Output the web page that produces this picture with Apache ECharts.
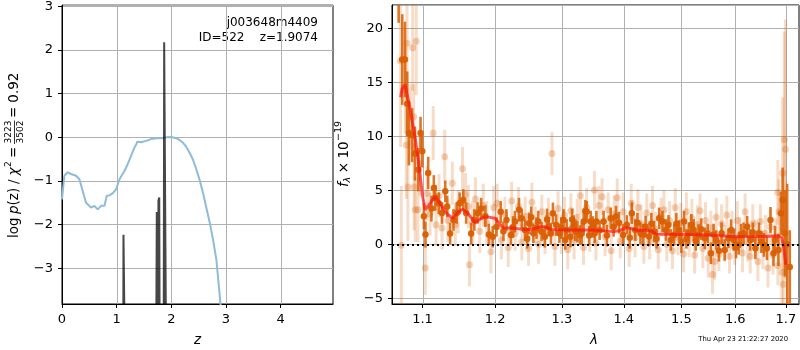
<!DOCTYPE html>
<html>
<head>
<meta charset="utf-8">
<script src="https://cdn.jsdelivr.net/npm/echarts@6/dist/echarts.min.js"></script>
<style>
  html, body { margin: 0; padding: 0; background: #fff; }
  #chart { width: 800px; height: 350px; }
</style>
</head>
<body>
<div id="chart"></div>
<script>
// left panel: log p(z) curve and the chi2 spikes
const pzCurve = [
  [0, -1.42], [0.043, -0.88], [0.104, -0.8], [0.165, -0.84], [0.257, -0.88], [0.318, -0.96],
  [0.379, -1.23], [0.44, -1.5], [0.532, -1.61], [0.593, -1.57], [0.654, -1.65], [0.716, -1.57],
  [0.777, -1.57], [0.82, -1.34], [0.869, -1.33], [0.93, -1.28], [0.99, -1.19], [1.052, -0.96],
  [1.143, -0.77], [1.204, -0.61], [1.266, -0.42], [1.327, -0.23], [1.36, -0.16], [1.375, -0.1],
  [1.395, -0.14], [1.45, -0.11], [1.54, -0.08], [1.63, -0.04], [1.725, -0.02], [1.82, -0.02],
  [1.908, 0.0], [2.0, 0.01], [2.09, -0.02], [2.15, -0.06], [2.213, -0.12], [2.275, -0.22],
  [2.335, -0.35], [2.4, -0.52], [2.458, -0.73], [2.52, -0.98], [2.58, -1.27], [2.64, -1.6],
  [2.703, -1.95], [2.765, -2.35], [2.825, -2.8], [2.9, -3.8], [2.95, -4.5]
]
const chiSpikes = [
  [1.12, -6], [1.125, -2.23], [1.155, -2.25], [1.16, -6],
  [1.72, -6], [1.735, -1.71], [1.75, -1.73], [1.758, -4], [1.765, -1.45], [1.78, -1.38], [1.79, -6],
  [1.86, -6], [1.87, 2.18], [1.9, 2.2], [1.91, -6]
]

// right panel: [lambda, flux, err]
const darkPoints = [
  [1.069, 22.5, 2.0], [1.0736, 17.1, 4.2], [1.0771, 17.1, 3.5], [1.080, 13.0, 3.0], [1.0822, 10.3, 3.0],
  [1.0864, 10.1, 2.5], [1.0901, 8.4, 2.5], [1.0945, 6.9, 2.0], [1.0974, 10.3, 1.5], [1.0997, 8.6, 1.5],
  [1.1018, 2.6, 1.2], [1.1039, 0.9, 1.2], [1.1075, 6.6, 1.5], [1.1118, 3.3, 1.2], [1.115, 5.2, 1.2],
  [1.117, 4.3, 1.2], [1.1216, 3.8, 1.0], [1.126, 2.9, 1.0], [1.1304, 4.9, 1.0], [1.133, 3.5, 1.0],
  [1.137, 1.0, 1.0], [1.1415, 2.25, 1.0], [1.146, 2.9, 1.0], [1.150, 3.8, 1.0], [1.155, 4.1, 1.0],
  [1.159, 2.9, 1.0], [1.166, 1.0, 1.0], [1.1705, 2.25, 1.0], [1.175, 2.9, 1.0], [1.180, 3.3, 1.0],
  [1.186, 2.6, 1.0], [1.191, 0.9, 1.0],
  [1.1965, 0.7, 1.0], [1.202, 1.6, 0.9], [1.208, 3.0, 1.0], [1.212, 1.2, 0.9], [1.2164, 2.25, 1.0],
  [1.2229, 0.86, 0.9], [1.226, 1.6, 1.0], [1.2288, 2.1, 1.0], [1.2348, 3.2, 1.1], [1.2388, 2.4, 0.9],
  [1.2437, 1.32, 1.0], [1.247, 0.5, 0.9], [1.2497, 1.94, 1.0], [1.253, 2.5, 1.0], [1.2562, 1.02, 0.9],
  [1.261, 1.5, 1.0], [1.2636, 2.1, 1.0], [1.2686, 1.17, 0.9], [1.2736, 0.7, 1.0], [1.277, 2.3, 1.0],
  [1.2795, 1.63, 0.9], [1.283, 1.0, 1.0], [1.286, 2.86, 1.0], [1.291, 1.78, 1.0], [1.296, 1.02, 0.9],
  [1.299, 1.5, 1.0], [1.3024, 2.25, 1.0], [1.305, 0.4, 0.9], [1.3074, 1.32, 1.0], [1.3133, 0.7, 1.0],
  [1.316, 2.3, 1.0], [1.3183, 1.78, 0.9], [1.321, 1.3, 1.0], [1.3243, 1.17, 1.0], [1.3282, 0.86, 0.9],
  [1.331, 1.0, 1.0], [1.3342, 2.1, 1.0], [1.337, 3.1, 1.0], [1.3392, 3.0, 1.0], [1.343, 0.8, 0.9],
  [1.3456, 2.1, 1.0], [1.349, 1.6, 1.0], [1.352, 1.02, 0.9],
  [1.3547, 2.1, 1.0], [1.360, 1.3, 0.9], [1.3665, 2.1, 1.0], [1.372, 0.8, 1.0], [1.3782, 2.4, 1.0],
  [1.383, 1.6, 0.9], [1.387, 2.56, 1.0], [1.392, 2.0, 1.0], [1.3988, 0.86, 1.0], [1.405, 1.8, 0.9],
  [1.41, 0.6, 1.0], [1.4135, 2.87, 1.0], [1.4194, 1.32, 1.0], [1.423, 2.0, 0.9], [1.4282, 1.02, 1.0],
  [1.433, 0.9, 1.0], [1.437, 1.63, 1.0], [1.4429, 0.71, 0.9], [1.447, 1.9, 1.0], [1.4517, 1.17, 1.0],
  [1.456, 0.5, 0.9], [1.4606, 2.4, 1.0], [1.4664, 2.1, 1.0], [1.4723, 1.32, 1.0], [1.477, 1.8, 0.9],
  [1.4811, 0.4, 1.0], [1.487, 0.86, 1.0], [1.491, 1.9, 1.0], [1.4958, 1.32, 0.9], [1.50, 0.2, 1.0],
  [1.5047, 2.1, 1.0], [1.509, 0.5, 0.9], [1.5135, 1.02, 1.0], [1.518, 1.8, 1.0], [1.5223, 1.32, 1.0],
  [1.526, 0.3, 0.9], [1.5311, 0.86, 1.0], [1.536, 1.4, 1.0], [1.5429, 0.55, 1.0], [1.548, 1.0, 0.9],
  [1.554, -0.83, 1.0], [1.559, 0.9, 1.0], [1.564, 0.4, 0.9], [1.569, -0.6, 1.0], [1.574, 1.02, 1.0],
  [1.580, -0.52, 1.0], [1.587, 0.55, 0.9], [1.592, 1.3, 1.0], [1.597, 0.4, 1.0], [1.6015, -0.3, 1.0],
  [1.6065, -0.06, 0.9], [1.611, 0.9, 1.0], [1.616, 1.02, 1.0], [1.623, 1.63, 1.0], [1.629, 0.4, 1.0],
  [1.634, 1.1, 0.9], [1.639, -0.37, 1.0], [1.646, 1.02, 1.0], [1.651, 0.2, 1.0], [1.656, -0.06, 1.1],
  [1.662, -0.37, 1.1], [1.669, 2.25, 1.2], [1.675, -0.83, 1.2], [1.678, 0.4, 1.3], [1.685, -0.52, 1.5],
  [1.690, 2.87, 2.0], [1.6935, 4.1, 3.0], [1.698, 1.0, 4.0], [1.7027, 0.0, 5.6], [1.708, -2.1, 3.4]
]
const lightPoints = [
  [1.0715, 17.0, 8.0], [1.0724, -0.1, 5.5], [1.0776, 14.3, 4.0], [1.0797, 18.6, 4.0], [1.0789, 9.2, 5.0],
  [1.081, 5.3, 5.0], [1.0842, 11.8, 3.0], [1.0871, 18.2, 4.0], [1.0884, 11.8, 3.0], [1.089, 5.3, 4.0],
  [1.0905, 3.2, 3.0], [1.0917, 18.8, 5.0], [1.094, 3.2, 3.0], [1.0965, 7.5, 3.0], [1.1037, -2.2, 2.5],
  [1.106, 4.7, 2.5], [1.110, 2.8, 2.0], [1.1142, 10.3, 2.5], [1.118, 1.8, 2.0], [1.122, 4.5, 2.0],
  [1.126, 1.5, 2.0], [1.1296, 8.1, 2.5], [1.134, 2.2, 2.0], [1.14, 5.65, 2.0], [1.144, 1.8, 2.0],
  [1.148, 3.0, 2.0], [1.154, 7.0, 2.0], [1.158, 4.6, 2.0], [1.162, 3.5, 2.0], [1.1636, -1.9, 2.0],
  [1.168, 2.0, 2.0], [1.172, 4.2, 2.0], [1.178, 1.2, 2.0], [1.183, 3.6, 2.0], [1.188, 2.0, 2.0],
  [1.194, -0.7, 2.0], [1.198, 3.4, 2.0],
  [1.203, 3.8, 1.8], [1.209, 0.4, 1.8], [1.214, 2.8, 1.6], [1.219, -0.3, 1.8], [1.224, 4.0, 1.8],
  [1.229, 1.0, 1.6], [1.234, 3.5, 1.8], [1.239, 0.2, 1.7], [1.244, 2.6, 1.8], [1.249, -0.4, 1.6],
  [1.254, 3.9, 1.8], [1.259, 1.8, 1.7], [1.264, 0.0, 1.8], [1.269, 3.0, 1.6], [1.274, 0.9, 1.8],
  [1.279, 2.6, 1.7], [1.2845, 8.4, 2.0], [1.289, -0.2, 1.8], [1.294, 3.3, 1.6], [1.299, 0.9, 1.8],
  [1.304, 2.7, 1.7], [1.309, -0.5, 1.8], [1.314, 3.1, 1.6], [1.319, 0.4, 1.8], [1.324, 2.5, 1.7],
  [1.329, 4.5, 1.8], [1.334, -0.3, 1.6], [1.339, 3.4, 1.8], [1.344, 1.0, 1.7], [1.3516, 5.0, 1.8],
  [1.354, 0.1, 1.6], [1.359, 3.6, 1.8], [1.364, 4.4, 1.7], [1.369, 0.7, 1.8], [1.374, 3.2, 1.6],
  [1.379, -0.6, 1.8], [1.384, 2.8, 1.7], [1.389, 4.3, 1.8], [1.394, 0.3, 1.6], [1.399, 3.0, 1.8],
  [1.409, -0.4, 1.7], [1.4125, 3.8, 1.8], [1.414, 2.5, 1.6], [1.419, 0.6, 1.8], [1.424, 3.4, 1.7],
  [1.429, 1.9, 1.8], [1.434, -0.2, 1.6], [1.439, 2.9, 1.8], [1.444, 0.3, 1.7], [1.449, 3.6, 1.8],
  [1.454, 1.4, 1.6], [1.459, -0.5, 1.8], [1.464, 2.6, 1.7], [1.469, 3.2, 1.8], [1.474, 0.0, 1.6],
  [1.479, 2.2, 1.8], [1.484, -0.6, 1.7], [1.489, 3.4, 1.8], [1.494, 0.6, 1.6], [1.499, 2.0, 1.8],
  [1.504, -0.9, 1.7], [1.509, 3.0, 1.8], [1.514, 0.4, 1.6], [1.519, 2.4, 1.8], [1.524, -1.0, 1.7],
  [1.529, 1.8, 1.8], [1.534, 3.1, 1.6], [1.539, -0.4, 1.8], [1.544, 2.2, 1.7], [1.549, -1.3, 1.8],
  [1.554, 1.5, 1.6], [1.557, -2.8, 1.8], [1.561, -1.6, 1.7], [1.564, 2.5, 1.8], [1.569, -0.9, 1.6],
  [1.574, 1.9, 1.8], [1.579, 0.1, 1.7], [1.584, 2.7, 1.8], [1.589, -1.1, 1.6], [1.594, 1.3, 1.8],
  [1.599, -0.2, 1.7], [1.604, 2.2, 1.8], [1.609, 0.9, 1.6], [1.614, -0.8, 1.8], [1.619, 3.0, 1.7],
  [1.624, 0.2, 1.8], [1.629, -1.1, 1.6], [1.634, 1.9, 1.8], [1.639, 0.6, 1.7], [1.644, -1.6, 1.8],
  [1.649, 2.1, 1.6], [1.654, -0.5, 1.8], [1.659, 1.0, 1.7], [1.664, -2.2, 1.8], [1.669, 1.6, 1.6],
  [1.674, -1.0, 1.8], [1.679, 0.7, 1.7], [1.684, -2.0, 1.8], [1.6837, 4.8, 3.0], [1.686, 3.0, 3.0],
  [1.692, -2.6, 3.0], [1.6935, 6.6, 7.0], [1.695, -3.7, 4.0], [1.697, 9.7, 10.0], [1.699, 8.8, 12.0]
]
const modelLine = [
  [1.0715, 13.6], [1.0733, 14.4], [1.0773, 14.75], [1.081, 13.5], [1.085, 12.0], [1.09, 10.0],
  [1.095, 7.5], [1.1, 4.5], [1.1035, 3.2], [1.108, 3.6], [1.1167, 4.4], [1.125, 3.6], [1.133, 2.8],
  [1.141, 2.4], [1.148, 3.0], [1.1546, 3.24], [1.162, 2.8], [1.1713, 2.0], [1.178, 2.3], [1.186, 2.56],
  [1.1997, 2.4], [1.2113, 1.54], [1.225, 1.5], [1.2442, 1.35], [1.255, 1.4], [1.2683, 1.63],
  [1.276, 1.6], [1.283, 1.36], [1.31, 1.33], [1.348, 1.32], [1.384, 1.17], [1.395, 1.3], [1.4036, 1.54],
  [1.412, 1.45], [1.4236, 1.3], [1.439, 1.3], [1.448, 1.2], [1.456, 0.93], [1.5106, 0.9], [1.55, 0.85],
  [1.6015, 0.7], [1.65, 0.72], [1.686, 0.77], [1.692, 0.6], [1.696, -0.4], [1.70, -1.9]
]
const xTicksLeft = [1, 2, 3, 4]
const xTicksRight = [1.1, 1.2, 1.3, 1.4, 1.5, 1.6, 1.7]

const FONT = 'DejaVu Sans'
const ORANGE = '#d95f02'
const GRID = '#b0b0b0'
const minus = v => (v < 0 ? '\u2212' + (-v) : '' + v)

const chart = echarts.init(document.getElementById('chart'))

const axisCommon = {
  axisLine: { show: true, onZero: false, lineStyle: { color: '#000', width: 1 } },
  axisTick: { show: true, length: 4, lineStyle: { color: '#000' } },
  axisLabel: { color: '#000', fontFamily: FONT, fontSize: 13, margin: 9, showMinLabel: false, showMaxLabel: false },
  splitLine: { show: true, lineStyle: { color: GRID, width: 1 } }
}

const errorBars = (points, color, width, opacity) => ({
  type: 'custom',
  xAxisIndex: 1,
  yAxisIndex: 1,
  data: points,
  encode: { x: 0, y: 1 },
  silent: true,
  clip: true,
  renderItem: (params, api) => {
    const x = api.value(0), y = api.value(1), e = api.value(2)
    const lo = api.coord([x, y - e])
    const hi = api.coord([x, y + e])
    return {
      type: 'line',
      shape: { x1: lo[0], y1: lo[1], x2: hi[0], y2: hi[1] },
      style: { stroke: color, lineWidth: width, opacity: opacity }
    }
  }
})

// vertical grid lines, one per x tick, spanning the whole plot height
const vGrid = (axisIndex, ticks) => ({
  type: 'custom',
  xAxisIndex: axisIndex,
  yAxisIndex: axisIndex,
  data: ticks.map(v => [v, 0]),
  encode: { x: 0, y: 1 },
  silent: true,
  z: 1,
  renderItem: (params, api) => {
    const cs = params.coordSys
    const x = Math.round(api.coord([api.value(0), 0])[0]) + 0.5
    return {
      type: 'line',
      shape: { x1: x, y1: cs.y, x2: x, y2: cs.y + cs.height },
      style: { stroke: GRID, lineWidth: 1 }
    }
  }
})

const txt = (x, y, text, size, extra) => ({
  type: 'text', x, y,
  style: Object.assign({
    text, fill: '#000', font: size + 'px "' + FONT + '"',
    align: 'left', verticalAlign: 'middle', textAlign: 'left', textVerticalAlign: 'middle'
  }, extra || {})
})
const itxt = (x, y, text, size) => txt(x, y, text, size, { font: 'italic ' + size + 'px "' + FONT + '"' })

const option = {
  animation: false,
  backgroundColor: '#fff',
  grid: [
    { left: 62, right: 467, top: 5, bottom: 46, show: true, borderColor: '#000', borderWidth: 1, backgroundColor: 'transparent' },
    { left: 392, right: 1, top: 5, bottom: 46, show: true, borderColor: '#000', borderWidth: 1, backgroundColor: 'transparent' }
  ],
  xAxis: [
    Object.assign({}, axisCommon, {
      type: 'value', gridIndex: 0, min: 0, max: 4.96, interval: 1,
      axisLabel: Object.assign({}, axisCommon.axisLabel, { showMinLabel: true, formatter: minus }),
      splitLine: { show: false }
    }),
    Object.assign({}, axisCommon, {
      type: 'log', gridIndex: 1, min: 1.0605, max: 1.727, logBase: 10,
      axisTick: Object.assign({}, axisCommon.axisTick, { customValues: xTicksRight }),
      axisLabel: Object.assign({}, axisCommon.axisLabel, {
        customValues: xTicksRight, showMinLabel: true, showMaxLabel: true,
        formatter: v => (+v).toFixed(1)
      }),
      splitLine: { show: false }
    })
  ],
  yAxis: [
    Object.assign({}, axisCommon, {
      type: 'value', gridIndex: 0, min: -3.82, max: 3.03, splitNumber: 7,
      axisLabel: Object.assign({}, axisCommon.axisLabel, { formatter: minus })
    }),
    Object.assign({}, axisCommon, {
      type: 'value', gridIndex: 1, min: -5.53, max: 22.15, splitNumber: 6,
      axisLabel: Object.assign({}, axisCommon.axisLabel, { formatter: minus })
    })
  ],
  series: [
    vGrid(0, xTicksLeft),
    vGrid(1, xTicksRight),
    {
      type: 'line', xAxisIndex: 0, yAxisIndex: 0, data: pzCurve, showSymbol: false, silent: true,
      lineStyle: { color: '#8fbbd9', width: 2 }
    },
    {
      type: 'line', xAxisIndex: 0, yAxisIndex: 0, data: chiSpikes, showSymbol: false, silent: true,
      lineStyle: { color: 'rgba(0,0,0,0.72)', width: 2 }
    },
    errorBars(lightPoints, ORANGE, 3, 0.22),
    {
      type: 'scatter', xAxisIndex: 1, yAxisIndex: 1, data: lightPoints.map(p => [p[0], p[1]]),
      symbol: 'circle', symbolSize: 7, silent: true,
      itemStyle: { color: ORANGE, opacity: 0.28 }
    },
    errorBars(darkPoints, ORANGE, 2.6, 0.85),
    {
      type: 'scatter', xAxisIndex: 1, yAxisIndex: 1, data: darkPoints.map(p => [p[0], p[1]]),
      symbol: 'circle', symbolSize: 6.5, silent: true,
      itemStyle: { color: ORANGE, opacity: 0.95 }
    },
    {
      type: 'line', xAxisIndex: 1, yAxisIndex: 1, data: modelLine, showSymbol: false, silent: true,
      lineStyle: { color: 'rgba(255,20,20,0.7)', width: 3 },
      markLine: {
        silent: true, symbol: 'none', animation: false,
        label: { show: false },
        lineStyle: { color: '#000', width: 2, type: [2, 3], opacity: 1 },
        data: [{ yAxis: 0 }]
      }
    }
  ],
  graphic: [
    txt(318, 22.5, 'j003648m4409', 12, { align: 'right', textAlign: 'right' }),
    txt(318, 37.5, 'ID=522    z=1.9074', 12, { align: 'right', textAlign: 'right' }),
    itxt(194, 340, 'z', 13.5),
    itxt(590, 340, '\u03bb', 13.5),
    txt(788, 339, 'Thu Apr 23 21:22:27 2020', 6.8, { align: 'right', textAlign: 'right' }),
    {
      type: 'group', x: 14, y: 238, rotation: Math.PI / 2,
      children: [
        txt(0, 0, 'log', 13.5),
        itxt(24, 0, 'p', 13.5),
        txt(32.6, 0, '(z)', 13.5),
        txt(54, 0, '/', 13.5),
        itxt(62.5, 0, '\u03c7', 13.5),
        txt(71, -5, '2', 9),
        txt(80, 0, '=', 13.5),
        txt(94.5, -5.5, '3223', 9),
        { type: 'line', shape: { x1: 94, y1: 0.5, x2: 117.5, y2: 0.5 }, style: { stroke: '#000', lineWidth: 0.8 } },
        txt(94.5, 6.5, '3502', 9),
        txt(120, 0, '=', 13.5),
        txt(135.3, 0, '0.92', 13.5)
      ]
    },
    {
      type: 'group', x: 344, y: 187, rotation: Math.PI / 2,
      children: [
        itxt(0, 0, 'f', 13.5),
        itxt(4.5, 4, '\u03bb', 9.5),
        txt(13.7, 0, '\u00d7', 13.5),
        txt(28.5, 0, '10', 13.5),
        txt(46, -5, '\u221219', 9.5)
      ]
    }
  ]
}

chart.setOption(option)
</script>
</body>
</html>
